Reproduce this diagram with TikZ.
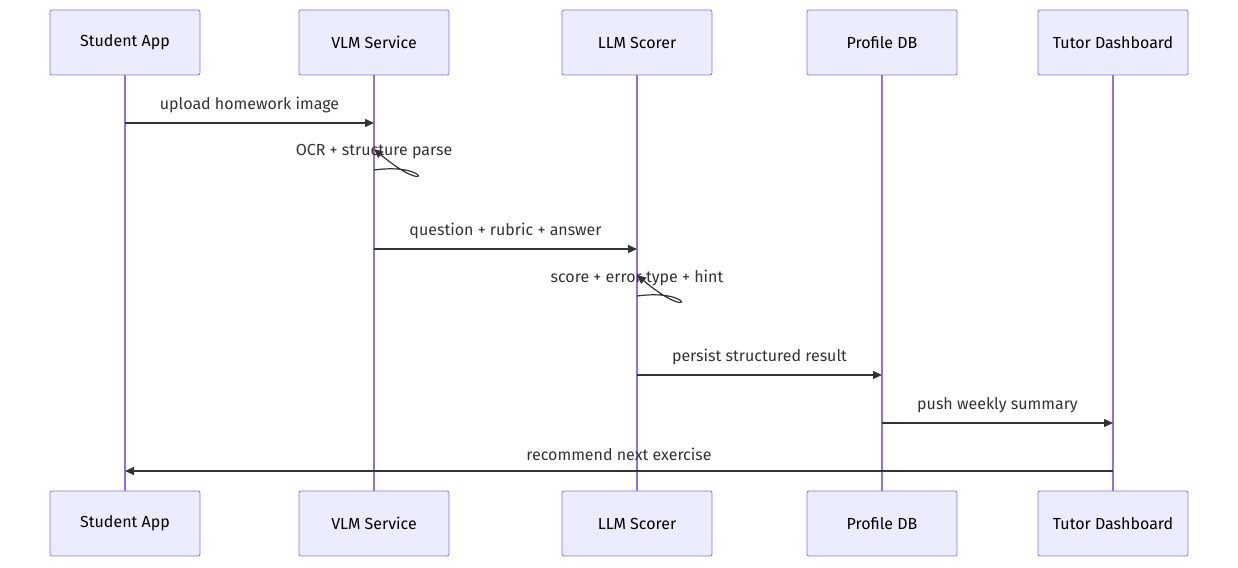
\documentclass[tikz,border=0pt]{standalone}
\usepackage{fontspec}
\setmainfont{Fira Sans}
\usetikzlibrary{arrows.meta}
\definecolor{boxfill}{HTML}{ECECFF}
\definecolor{boxline}{HTML}{9370DB}
\definecolor{msgline}{HTML}{333333}
\begin{document}
\begin{tikzpicture}[x=1pt,y=-1pt,
  actor/.style={draw=boxline,fill=boxfill,rounded corners=2pt,minimum width=150pt,minimum height=65pt,font=\fontsize{16}{19}\selectfont,line width=0.8pt},
  life/.style={draw=boxline,line width=1.2pt},
  msg/.style={draw=msgline,line width=1.2pt,-{Triangle[length=9pt,width=8pt]}},
  lbl/.style={font=\fontsize{16}{19}\selectfont,text=msgline}]
	\useasboundingbox (0,0) rectangle (1238,567);
	% participants
	\node[actor] (sa) at (125,42.5) {Student App};
	\node[actor] (vlm) at (374,42.5) {VLM Service};
	\node[actor] (llm) at (637,42.5) {LLM Scorer};
	\node[actor] (pdb) at (882,42.5) {Profile DB};
	\node[actor] (td) at (1113,42.5) {Tutor Dashboard};
	\node[actor] (sab) at (125,523.5) {Student App};
	\node[actor] (vlmb) at (374,523.5) {VLM Service};
	\node[actor] (llmb) at (637,523.5) {LLM Scorer};
	\node[actor] (pdbb) at (882,523.5) {Profile DB};
	\node[actor] (tdb) at (1113,523.5) {Tutor Dashboard};
	% lifelines
	\foreach \a in {sa,vlm,llm,pdb,td}
		\draw[life] (\a.south) -- (\a b.north);
	% message rows
	\coordinate (m1) at (0,123);
	\coordinate (m2) at (0,170);
	\coordinate (m3) at (0,249);
	\coordinate (m4) at (0,296);
	\coordinate (m5) at (0,375);
	\coordinate (m6) at (0,423);
	\coordinate (m7) at (0,471);
	\draw[msg] (sa |- m1) -- (vlm |- m1) node[lbl,midway,above=6pt] {upload homework image};
	\draw[msg] (vlm |- m2) .. controls (432,162) and (432,198) .. ([yshift=21pt]vlm |- m2);
	\node[lbl] (l2) at (374,152) {OCR + structure parse};
	\draw[msg] (vlm |- m3) -- (llm |- m3) node[lbl,midway,above=6pt] {question + rubric + answer};
	\draw[msg] (llm |- m4) .. controls (695,288) and (695,324) .. ([yshift=21pt]llm |- m4);
	\node[lbl] (l4) at (637,278) {score + error type + hint};
	\draw[msg] (llm |- m5) -- (pdb |- m5) node[lbl,midway,above=6pt] {persist structured result};
	\draw[msg] (pdb |- m6) -- (td |- m6) node[lbl,midway,above=6pt] {push weekly summary};
	\draw[msg] (td |- m7) -- (sa |- m7) node[lbl,midway,above=6pt] {recommend next exercise};
\end{tikzpicture}
\end{document}
